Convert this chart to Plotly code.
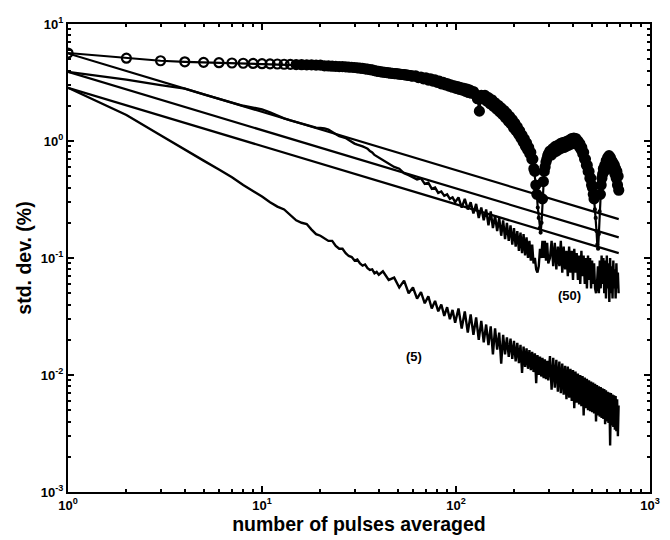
import math
import plotly.graph_objects as go

# ---------------- data ----------------
# pulse counts for the circle-marked curve
circle_pulses = (list(range(1, 61)) + list(range(62, 121, 2)) + list(range(123, 301, 3))
                 + list(range(305, 691, 5)))
circle_std = [
    5.65, 5.1, 4.85, 4.75, 4.7, 4.67, 4.64, 4.62, 4.6, 4.58,
    4.56, 4.55, 4.53, 4.52, 4.5, 4.49, 4.48, 4.47, 4.46, 4.45,
    4.39, 4.38, 4.36, 4.35, 4.33, 4.32, 4.3, 4.28, 4.27, 4.25,
    4.22, 4.2, 4.17, 4.14, 4.11, 4.08, 4.05, 4.0, 3.96, 3.93,
    3.9, 3.88, 3.86, 3.84, 3.82, 3.8, 3.79, 3.77, 3.76, 3.75,
    3.73, 3.72, 3.7, 3.69, 3.67, 3.66, 3.64, 3.62, 3.6, 3.58,
    # 62..120 step 2
    3.6, 3.48, 3.52, 3.4, 3.47, 3.32, 3.4, 3.25, 3.33, 3.17,
    3.25, 3.08, 3.17, 3.02, 3.1, 2.95, 3.02, 2.88, 2.96, 2.82,
    2.92, 2.76, 2.86, 2.72, 2.82, 2.66, 2.78, 2.6, 2.72, 2.56,
    # 123..300 step 3
    2.65, 2.5, 2.3, 1.8, 2.45, 2.3, 2.45, 2.2, 2.35, 2.08,
    2.25, 1.98, 2.12, 1.88, 2.02, 1.78, 1.92, 1.68, 1.82, 1.58,
    1.72, 1.48, 1.62, 1.4, 1.52, 1.3, 1.42, 1.22, 1.32, 1.14,
    1.22, 1.06, 1.12, 0.98, 1.04, 0.9, 0.96, 0.84, 0.88, 0.78,
    0.8, 0.7, 0.7, 0.58, 0.55, 0.42, 0.35, 0.27, 0.22, 0.18,
    0.165, 0.2, 0.32, 0.45, 0.55, 0.6, 0.66, 0.7, 0.75, 0.78,
    # 305..690 step 5
    0.82, 0.76, 0.86, 0.8, 0.9, 0.82, 0.92, 0.85, 0.95, 0.87,
    0.97, 0.88, 0.98, 0.9, 1.0, 0.92, 1.02, 0.94, 1.05, 0.95,
    1.06, 0.97, 1.05, 0.95, 1.0, 0.9, 0.95, 0.85, 0.88, 0.78,
    0.8, 0.7, 0.7, 0.62, 0.62, 0.55, 0.55, 0.48, 0.48, 0.42,
    0.4, 0.35, 0.32, 0.26, 0.22, 0.17, 0.13, 0.12, 0.16, 0.25,
    0.35, 0.42, 0.48, 0.52, 0.58, 0.55, 0.62, 0.6, 0.68, 0.63,
    0.72, 0.66, 0.75, 0.68, 0.72, 0.64, 0.68, 0.6, 0.65, 0.56,
    0.62, 0.52, 0.58, 0.48, 0.55, 0.42, 0.5, 0.38,
]

# common pulse grid for the two measured curves (5) and (50)
pulses = (list(range(1, 41)) + list(range(42, 100, 3)) + list(range(103, 300, 4))
          + list(range(305, 690, 6)))

std_50 = [
    3.9, 3.35, 3.0, 2.8, 2.5, 2.3, 2.13, 2.0, 1.93, 1.86,
    1.76, 1.64, 1.56, 1.5, 1.45, 1.4, 1.36, 1.32, 1.3, 1.29,
    1.28, 1.25, 1.2, 1.14, 1.1, 1.08, 1.06, 1.02, 0.98, 0.95,
    0.93, 0.92, 0.9, 0.88, 0.86, 0.82, 0.8, 0.76, 0.74, 0.72,
    # 42..99 step 3
    0.69, 0.64, 0.6, 0.58, 0.53, 0.51, 0.49, 0.47, 0.48, 0.43,
    0.44, 0.39, 0.4, 0.36, 0.37, 0.34, 0.35, 0.32, 0.33, 0.30,
    # 103..299 step 4
    0.33, 0.27, 0.32, 0.26, 0.3, 0.24, 0.29, 0.22, 0.27, 0.21,
    0.26, 0.19, 0.25, 0.18, 0.23, 0.17, 0.22, 0.155, 0.21, 0.145,
    0.2, 0.14, 0.19, 0.13, 0.18, 0.125, 0.17, 0.115, 0.165, 0.11,
    0.16, 0.105, 0.15, 0.1, 0.14, 0.095, 0.13, 0.09, 0.1, 0.08,
    0.075, 0.085, 0.12, 0.1, 0.14, 0.1, 0.14, 0.095, 0.135, 0.09,
    # 305..689 step 6
    0.10, 0.14, 0.085, 0.135, 0.08, 0.125, 0.085, 0.14, 0.075, 0.125,
    0.08, 0.115, 0.07, 0.125, 0.075, 0.115, 0.065, 0.12, 0.075, 0.11,
    0.065, 0.105, 0.06, 0.115, 0.07, 0.105, 0.06, 0.1, 0.055, 0.105,
    0.065, 0.1, 0.055, 0.095, 0.06, 0.09, 0.055, 0.05, 0.06, 0.085,
    0.05, 0.095, 0.055, 0.105, 0.06, 0.1, 0.05, 0.095, 0.045, 0.105,
    0.055, 0.09, 0.042, 0.1, 0.05, 0.085, 0.045, 0.095, 0.055, 0.08,
    0.045, 0.09, 0.055, 0.075, 0.05,
]

std_5 = [
    2.85, 1.67, 1.12, 0.84, 0.68, 0.57, 0.49, 0.42, 0.375, 0.335,
    0.30, 0.275, 0.26, 0.235, 0.21, 0.20, 0.195, 0.175, 0.16, 0.155,
    0.148, 0.14, 0.14, 0.127, 0.12, 0.12, 0.11, 0.104, 0.102, 0.095,
    0.097, 0.09, 0.086, 0.088, 0.082, 0.079, 0.08, 0.074, 0.076, 0.072,
    # 42..99 step 3
    0.077, 0.065, 0.068, 0.056, 0.064, 0.05, 0.056, 0.045, 0.051, 0.041,
    0.047, 0.037, 0.043, 0.035, 0.04, 0.032, 0.038, 0.03, 0.036, 0.028,
    # 103..299 step 4
    0.037, 0.025, 0.035, 0.023, 0.033, 0.022, 0.031, 0.020, 0.029, 0.019,
    0.027, 0.018, 0.026, 0.015, 0.025, 0.0165, 0.023, 0.0125, 0.022, 0.015,
    0.021, 0.0143, 0.0205, 0.0137, 0.0196, 0.0131, 0.0188, 0.0126, 0.0181, 0.0104,
    0.0175, 0.0117, 0.0169, 0.0113, 0.0163, 0.011, 0.0158, 0.0106, 0.0153, 0.0085,
    0.0148, 0.01, 0.0144, 0.0097, 0.014, 0.0094, 0.0136, 0.0092, 0.0132, 0.009,
    # 305..689 step 6
    0.0145, 0.0075, 0.014, 0.0078, 0.0135, 0.0072, 0.013, 0.007, 0.0125, 0.0068,
    0.012, 0.0062, 0.0118, 0.0064, 0.0113, 0.006, 0.011, 0.0052, 0.0107, 0.0058,
    0.0103, 0.0056, 0.01, 0.0054, 0.0098, 0.0045, 0.0095, 0.0052, 0.0093, 0.005,
    0.009, 0.0049, 0.0088, 0.0048, 0.0086, 0.0047, 0.0084, 0.004, 0.0082, 0.0045,
    0.008, 0.0044, 0.0079, 0.0043, 0.0077, 0.0042, 0.0076, 0.0038, 0.0074, 0.004,
    0.0072, 0.0039, 0.0071, 0.0025, 0.007, 0.0037, 0.0068, 0.0036, 0.0067, 0.0034,
    0.0066, 0.0033, 0.0062, 0.003, 0.0055,
]

# three straight reference lines (end points)
ref_pulses = [1, 690]
ref_upper = [5.6, 0.215]
ref_middle = [3.9, 0.15]
ref_lower = [2.85, 0.11]

x_tick_vals = [1, 10, 100, 1000]
x_tick_text = ["10<sup>0</sup>", "10<sup>1</sup>", "10<sup>2</sup>", "10<sup>3</sup>"]
y_tick_vals = [0.001, 0.01, 0.1, 1, 10]
y_tick_text = ["10<sup>-3</sup>", "10<sup>-2</sup>", "10<sup>-1</sup>", "10<sup>0</sup>", "10<sup>1</sup>"]

curve_labels = [("(50)", 385, 0.048), ("(5)", 61, 0.0145)]

# ---------------- figure ----------------
BLACK = "black"
FONT = "Liberation Sans, Arial, sans-serif"

# first circles hollow; crowded ones read as a solid band; the deep notches are thin strokes
OPEN_COUNT = 14
circle_symbols = ["circle-open" if i < OPEN_COUNT else "circle" for i in range(len(circle_pulses))]
circle_sizes = [2 if (n > 200 and v < 0.3) else 9 for n, v in zip(circle_pulses, circle_std)]

fig = go.Figure()
for ys in (ref_upper, ref_middle, ref_lower):
    fig.add_trace(go.Scatter(x=ref_pulses, y=ys, mode="lines",
                             line=dict(color=BLACK, width=2.2), showlegend=False))
fig.add_trace(go.Scatter(x=pulses, y=std_5, mode="lines",
                         line=dict(color=BLACK, width=2.4), showlegend=False))
fig.add_trace(go.Scatter(x=pulses, y=std_50, mode="lines",
                         line=dict(color=BLACK, width=2.4), showlegend=False))
fig.add_trace(go.Scatter(x=circle_pulses, y=circle_std, mode="lines+markers",
                         line=dict(color=BLACK, width=2.2),
                         marker=dict(symbol=circle_symbols, size=circle_sizes, color=BLACK,
                                     opacity=1, line=dict(width=2.2, color=BLACK)),
                         opacity=1, showlegend=False))

for txt, xv, yv in curve_labels:
    fig.add_annotation(x=math.log10(xv), y=math.log10(yv), text="<b>%s</b>" % txt,
                       showarrow=False, font=dict(family=FONT, size=13, color=BLACK))

minor_x = [m * d for d in (1, 10, 100) for m in range(2, 10)]
minor_y = [m * d for d in (0.001, 0.01, 0.1, 1) for m in range(2, 10)]

axis_common = dict(
    type="log", showgrid=False, zeroline=False, showline=True, linecolor=BLACK,
    linewidth=2, mirror="ticks", ticks="inside", ticklen=6, tickwidth=1.5,
    tickcolor=BLACK, tickfont=dict(family=FONT, size=13, color=BLACK),
)

fig.update_xaxes(**axis_common, range=[0, 3], tickmode="array",
                 tickvals=x_tick_vals, ticktext=["<b>%s</b>" % t for t in x_tick_text],
                 minor=dict(tickvals=minor_x, ticks="inside", ticklen=3,
                            tickwidth=1.5, tickcolor=BLACK, showgrid=False),
                 title=dict(text="<b>number of pulses averaged</b>",
                            font=dict(family=FONT, size=19.5, color=BLACK), standoff=2))
fig.update_yaxes(**axis_common, range=[-3, 1], tickmode="array",
                 tickvals=y_tick_vals, ticktext=["<b>%s</b>" % t for t in y_tick_text],
                 minor=dict(tickvals=minor_y, ticks="inside", ticklen=3,
                            tickwidth=1.5, tickcolor=BLACK, showgrid=False),
                 title=dict(text="<b>std. dev. (%)</b>",
                            font=dict(family=FONT, size=19.5, color=BLACK), standoff=4))

fig.update_layout(
    width=670, height=540,
    margin=dict(l=68, r=10, t=24, b=48),
    paper_bgcolor="white", plot_bgcolor="white",
    showlegend=False,
)

fig.write_html("out.html")
